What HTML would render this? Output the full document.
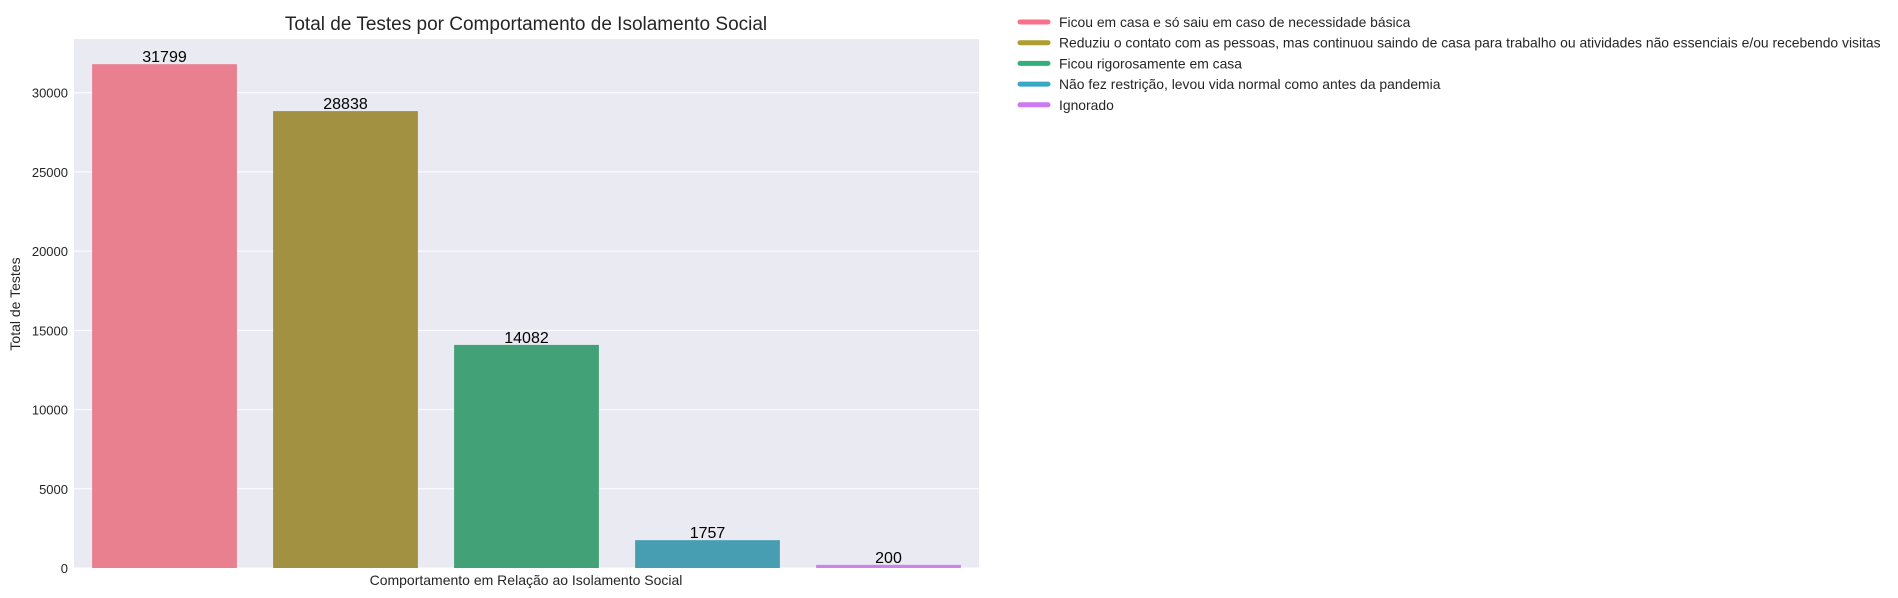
<!DOCTYPE html>
<html><head><meta charset="utf-8"><style>
html,body{margin:0;padding:0;background:#fff;}
svg{display:block;font-family:"Liberation Sans",sans-serif;}
</style></head><body>
<svg id="chart" width="1898" height="598" xmlns="http://www.w3.org/2000/svg">
<rect x="74" y="39" width="905" height="529" fill="#eaeaf2"/>
<g id="grid"></g><g id="bars"></g><g id="labels"></g><g id="legend"></g>
<text x="526" y="30" text-anchor="middle" font-size="19" fill="#262626">Total de Testes por Comportamento de Isolamento Social</text>
<text x="526" y="585" text-anchor="middle" font-size="14" fill="#262626">Comportamento em Relação ao Isolamento Social</text>
<text transform="translate(20,304) rotate(-90)" text-anchor="middle" font-size="14" fill="#262626">Total de Testes</text>
</svg>
<script>
const categories=["Ficou em casa e só saiu em caso de necessidade básica","Reduziu o contato com as pessoas, mas continuou saindo de casa para trabalho ou atividades não essenciais e/ou recebendo visitas","Ficou rigorosamente em casa","Não fez restrição, levou vida normal como antes da pandemia","Ignorado"];
const values=[31799,28838,14082,1757,200];
const colors=["#e8808f","#a19140","#43a177","#479eb3","#cd82ec"];
const legendColors=["#f77189","#ae9d31","#33b07a","#38a9c5","#cc7af4"];
const yTicks=[0,5000,10000,15000,20000,25000,30000];
const NS="http://www.w3.org/2000/svg";
const L=74,R=979,T=39,B=568;
const yMax=Math.max(...values)*1.05;
const y=v=>B-(v/yMax)*(B-T);
const band=(R-L)/values.length;
const xc=i=>L+band*(i+0.5);
function mk(tag,a,p){const e=document.createElementNS(NS,tag);for(const k in a)e.setAttribute(k,a[k]);p.appendChild(e);return e;}
const grid=document.getElementById('grid'),bars=document.getElementById('bars'),labels=document.getElementById('labels'),legend=document.getElementById('legend');
yTicks.forEach(t=>{
  const l=mk('line',{x1:L,x2:R,y1:y(t),y2:y(t),stroke:'#fff','stroke-width':1},grid);
  
  
  const tx=mk('text',{x:L-6,y:y(t)+5,'text-anchor':'end','font-size':13,fill:'#262626'},grid);
  tx.textContent=t;
  
  
});
values.forEach((v,i)=>{
  const w=band*0.8;
  const r=mk('rect',{x:xc(i)-w/2,y:y(v),width:w,height:B-y(v),fill:colors[i]},bars);
  
  
  const t=mk('text',{x:xc(i),y:y(v)-2,'text-anchor':'middle','font-size':16,fill:'#000'},labels);
  t.textContent=v;
  
  
});
categories.forEach((c,i)=>{
  const yy=22+i*20.7;
  const g=mk('g',{},legend);
  
  
  mk('line',{x1:1020,x2:1048,y1:yy,y2:yy,stroke:legendColors[i],'stroke-width':5,'stroke-linecap':'round'},g);
  const t=mk('text',{x:1059,y:yy+5,'font-size':13.9,fill:'#262626'},g);
  t.textContent=c;
});
</script>
</body></html>
